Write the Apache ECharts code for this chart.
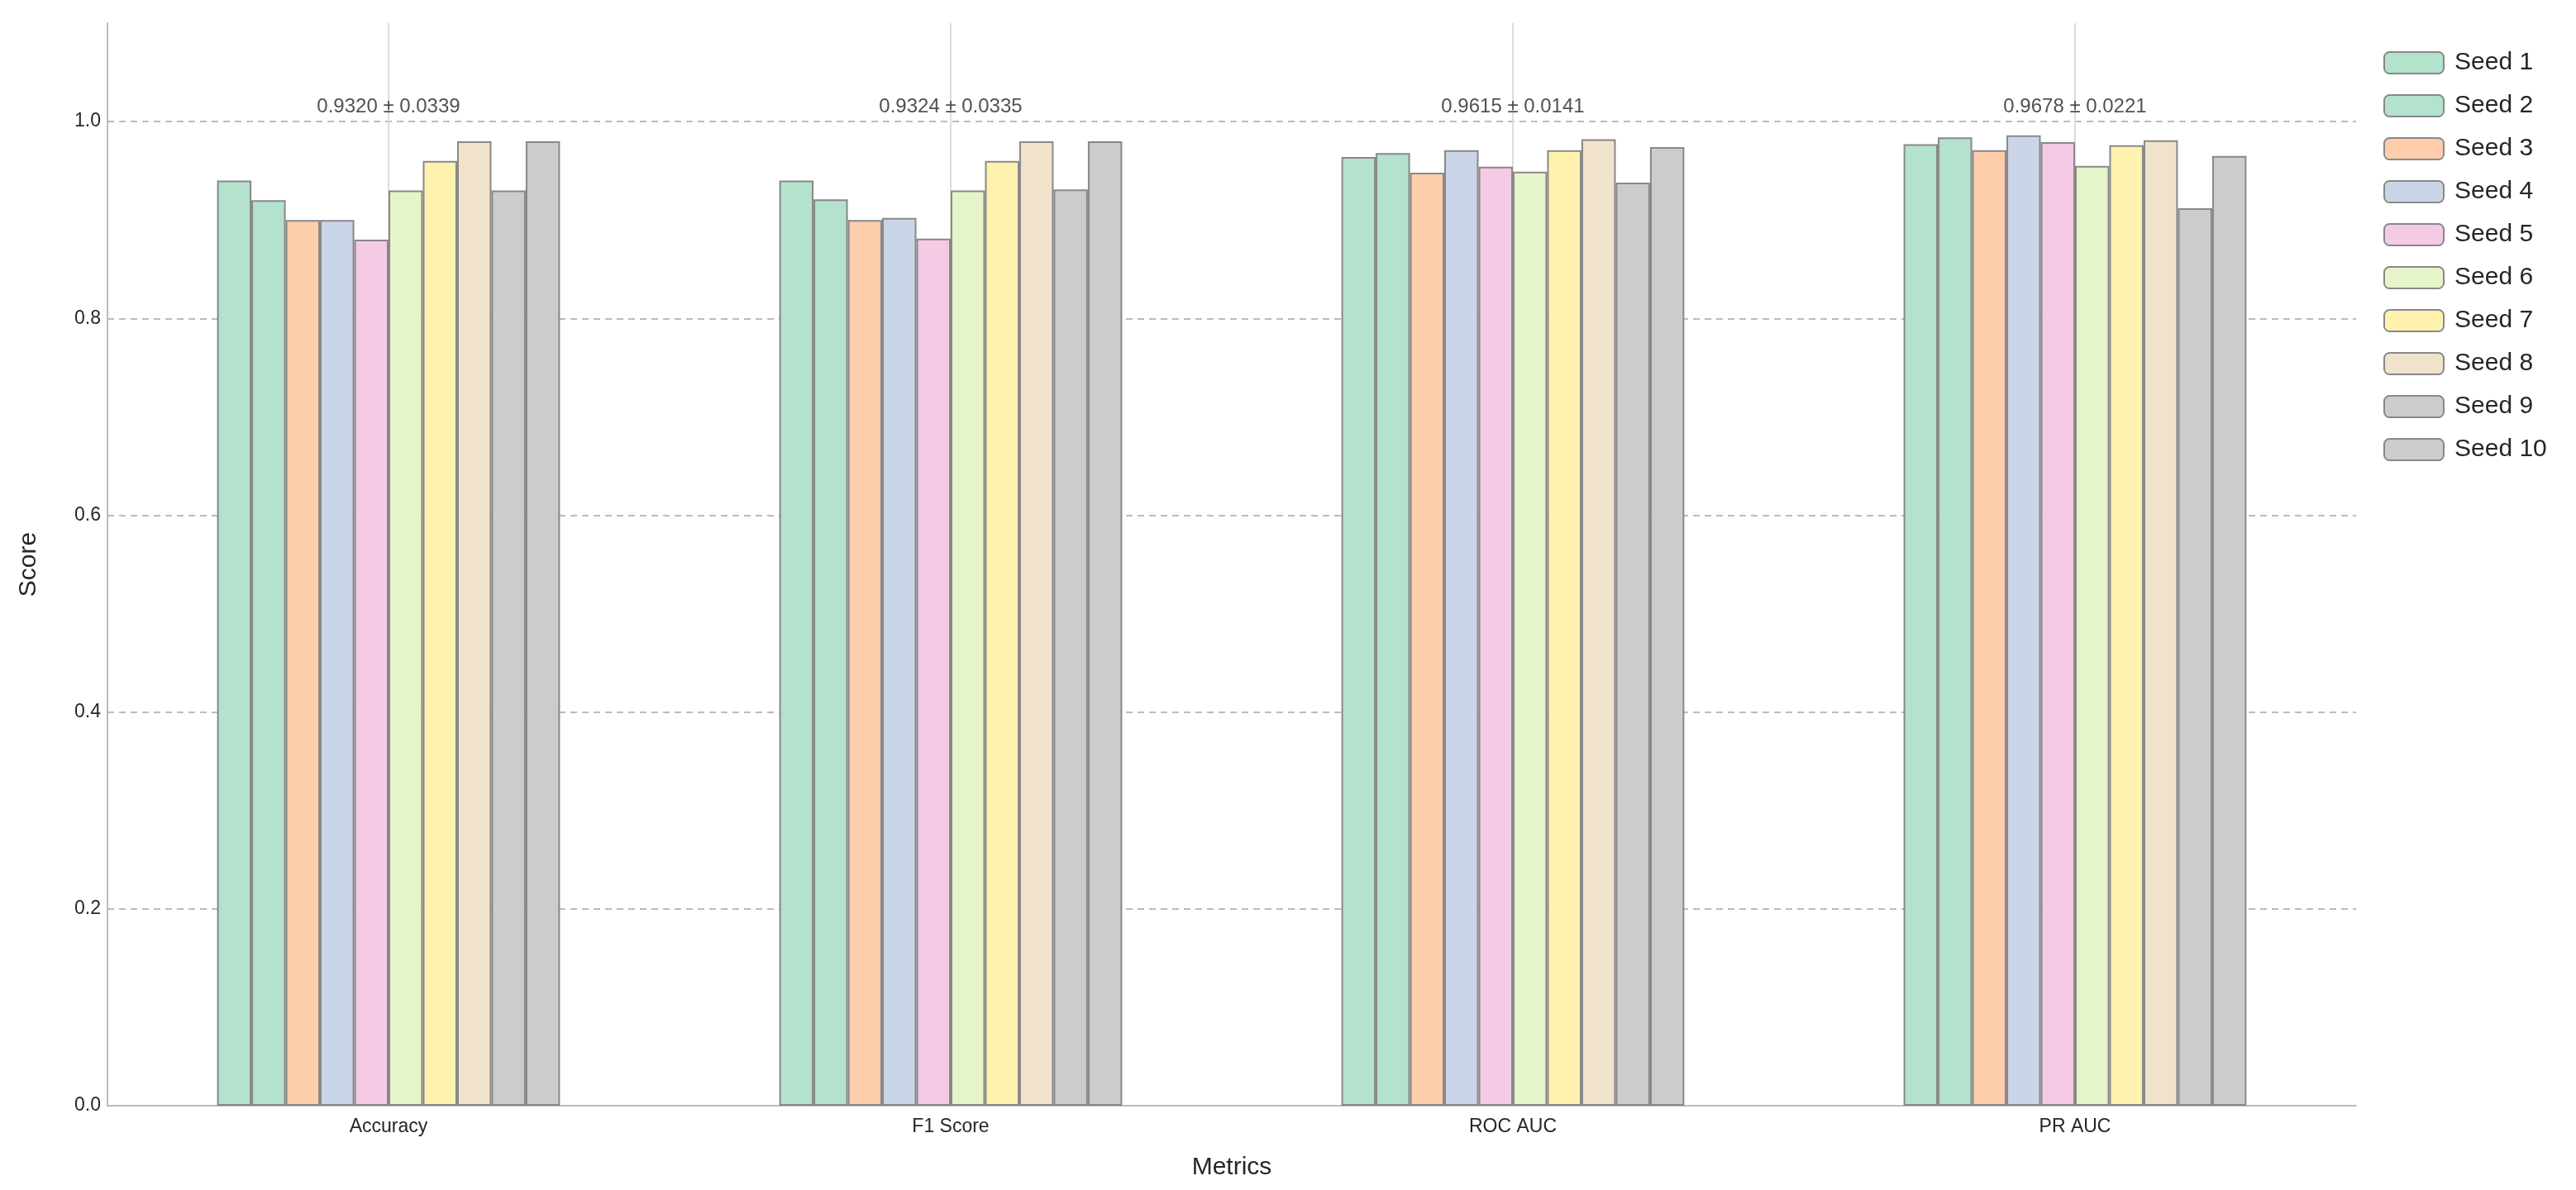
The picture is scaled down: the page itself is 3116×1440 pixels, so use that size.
<!DOCTYPE html>
<html><head><meta charset="utf-8">
<script src="https://cdn.jsdelivr.net/npm/echarts@6/dist/echarts.min.js"></script>
<style>html,body{margin:0;background:#fff}#c{width:3116px;height:1440px}</style>
</head><body><div id="c"></div>
<script>
const categories = ['Accuracy','F1 Score','ROC AUC','PR AUC'];
const seedNames = ['Seed 1','Seed 2','Seed 3','Seed 4','Seed 5','Seed 6','Seed 7','Seed 8','Seed 9','Seed 10'];
const seedColors = ['#b3e2cd','#b3e2cd','#fdcdac','#cbd5e8','#f4cae4','#e6f5c9','#fff2ae','#f1e2cc','#cccccc','#cccccc'];
const seedValues = [
  [0.940,0.940,0.964,0.977],
  [0.920,0.921,0.968,0.984],
  [0.900,0.900,0.948,0.971],
  [0.900,0.902,0.971,0.986],
  [0.880,0.881,0.954,0.979],
  [0.930,0.930,0.949,0.955],
  [0.960,0.960,0.971,0.976],
  [0.980,0.980,0.982,0.981],
  [0.930,0.931,0.938,0.912],
  [0.980,0.980,0.974,0.965]
];
const annotations = ['0.9320 ± 0.0339','0.9324 ± 0.0335','0.9615 ± 0.0141','0.9678 ± 0.0221'];
const annotationY = [1.0,1.0,1.0,1.0];
const font = 'Liberation Sans';
const series = seedNames.map((n,i)=>({
  name:n, type:'bar', data:seedValues[i], barGap:'0%', barCategoryGap:'39%', z:3,
  itemStyle:{color:seedColors[i], borderColor:'#888888', borderWidth:2}
}));
series.push({
  type:'scatter', data:annotationY, symbolSize:0, silent:true, z:4,
  label:{show:true, position:'top', distance:6, formatter:p=>annotations[p.dataIndex], fontSize:24, color:'#262626', fontFamily:font},
  markLine:{silent:true, symbol:'none', z:1, label:{show:false},
    lineStyle:{color:'#dddddd', width:2, type:'solid'},
    data:categories.map(c=>({xAxis:c}))}
});
const chart = echarts.init(document.getElementById('c'));
chart.setOption({
  animation:false,
  grid:{left:130, right:266, top:28, bottom:102},
  legend:{data:seedNames, orient:'vertical', left:2878, top:56, itemWidth:72, itemHeight:26, itemGap:22,
    textStyle:{fontSize:30, color:'#262626', fontFamily:font, padding:[0,0,0,8]},
    itemStyle:{borderColor:'#888888', borderWidth:2}},
  xAxis:{type:'category', data:categories, name:'Metrics', nameLocation:'middle', nameGap:60,
    nameTextStyle:{fontSize:30, color:'#262626', fontFamily:font},
    axisLine:{lineStyle:{color:'#bbbbbb', width:2}}, axisTick:{show:false},
    axisLabel:{fontSize:23, color:'#262626', fontFamily:font, margin:14},
    splitLine:{show:false}, boundaryGap:true},
  yAxis:{type:'value', min:0, max:1.1, interval:0.2, name:'Score', nameLocation:'middle', nameGap:80,
    nameTextStyle:{fontSize:30, color:'#262626', fontFamily:font},
    axisLine:{show:true, lineStyle:{color:'#bbbbbb', width:2}}, axisTick:{show:false},
    axisLabel:{fontSize:23, color:'#262626', fontFamily:font, showMaxLabel:false, formatter:v=>v.toFixed(1)},
    splitLine:{showMaxLine:false, lineStyle:{color:'#bbbbbb', type:[8,6], width:2}}},
  series
});
</script></body></html>
